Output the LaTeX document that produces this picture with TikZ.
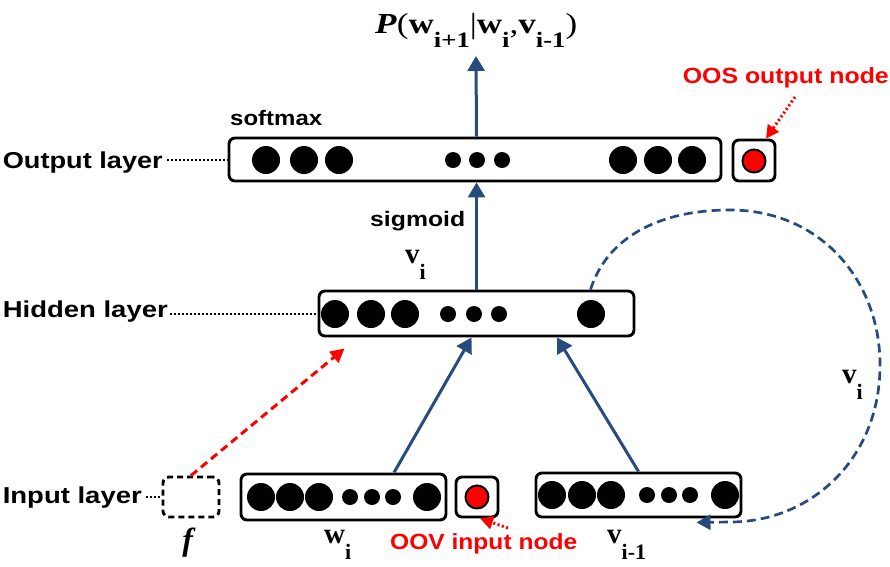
\documentclass[tikz,border=0pt]{standalone}
\usepackage{fontspec}
\setmainfont{Liberation Serif}
\setsansfont{Liberation Sans}
\usepackage{graphicx}
\usetikzlibrary{arrows.meta,calc}
\definecolor{navy}{HTML}{284B7E}
\definecolor{redc}{HTML}{FF0000}
\newcommand\lsub[2][16pt]{\raisebox{-#1}{\fontsize{22}{22}\selectfont\bfseries #2}}
\newcommand\fitw[2]{\resizebox{#1}{\height}{#2}}
\tikzset{
  layerbox/.style={draw=black, line width=2.9pt, rounded corners=6pt, inner sep=0pt, fill=white},
  bigdot/.style={circle, fill=black, inner sep=0pt, minimum size=28pt},
  smalldot/.style={circle, fill=black, inner sep=0pt, minimum size=16pt},
  reddisc/.style={circle, fill=redc, draw=black, line width=2pt, inner sep=0pt, minimum size=23pt},
  lbl/.style={font=\sffamily\bfseries\fontsize{23}{23}\selectfont, inner sep=0pt},
  smlbl/.style={font=\sffamily\bfseries\fontsize{21}{21}\selectfont, inner sep=0pt},
  redlbl/.style={font=\sffamily\bfseries\fontsize{22}{22}\selectfont, text=redc, inner sep=0pt},
  mathlbl/.style={font=\fontsize{29}{29}\selectfont, inner sep=0pt},
  leader/.style={black, line width=2pt, dash pattern=on 1.5pt off 2.5pt},
  flow/.style={navy, line width=3pt, -{Triangle[width=17pt,length=15pt]}},
  reddash/.style={redc, line width=3pt, dash pattern=on 8pt off 5pt, -{Triangle[width=14pt,length=14pt]}},
  reddotted/.style={redc, line width=3pt, dash pattern=on 2pt off 2.5pt, -{Triangle[width=13pt,length=13pt]}},
  loopline/.style={navy, line width=2.7pt, dash pattern=on 9pt off 5pt, -{Triangle[width=15pt,length=14pt]}},
}
\begin{document}
\begin{tikzpicture}[x=1pt,y=-1pt]
\useasboundingbox (0,0) rectangle (890,566);

% ---------- boxes ----------
\node[layerbox, minimum width=492pt, minimum height=43pt] (out) at (475,159.5) {};
\node[layerbox, minimum width=42pt, minimum height=41pt] (oos) at (754,160.5) {};
\node[layerbox, minimum width=315pt, minimum height=45pt] (hid) at (476.5,313.5) {};
\node[draw=black, line width=2.9pt, dash pattern=on 6pt off 4pt, rounded corners=6pt, minimum width=56pt, minimum height=40pt, inner sep=0pt] (fbox) at (191,497) {};
\node[layerbox, minimum width=205pt, minimum height=46pt] (wbox) at (343.5,497) {};
\node[layerbox, minimum width=42pt, minimum height=40pt] (oov) at (477,497) {};
\node[layerbox, minimum width=205pt, minimum height=44pt] (vbox) at (638.5,495) {};

% ---------- dots ----------
\foreach \x in {266,304,339,623,658,692} \node[bigdot] at (\x,160) {};
\foreach \x in {453,477,502} \node[smalldot] at (\x,160) {};
\node[reddisc] (oosdot) at (754,161) {};

\foreach \x in {335,371,405,591} \node[bigdot] at (\x,314) {};
\foreach \x in {448,474,499} \node[smalldot] at (\x,314) {};

\foreach \x in {261,290,319,427} \node[bigdot] at (\x,497) {};
\foreach \x in {350,372,393} \node[smalldot] at (\x,497) {};
\node[reddisc] (oovdot) at (477,497) {};

\foreach \x in {552,582,611,725} \node[bigdot] at (\x,495) {};
\foreach \x in {647,669,690} \node[smalldot] at (\x,495) {};

% ---------- text labels ----------
\node[lbl, anchor=base east] (outlbl) at (163,168) {\fitw{160pt}{Output layer}};
\node[lbl, anchor=base east] (hidlbl) at (168,317) {\fitw{165pt}{Hidden layer}};
\node[lbl, anchor=base east] (inlbl) at (142,503) {\fitw{139pt}{Input layer}};
\node[smlbl, anchor=base west] (softlbl) at (230,125) {\fitw{92pt}{softmax}};
\node[smlbl, anchor=base west] (siglbl) at (370,226) {\fitw{95pt}{sigmoid}};
\node[redlbl, anchor=base east] (ooslbl) at (889,83) {\fitw{206pt}{OOS output node}};
\node[redlbl, anchor=base west] (oovlbl) at (390,549) {\fitw{187pt}{OOV input node}};

\node[mathlbl, anchor=base west] (plbl) at (375,33)
  {\fitw{202pt}{\textbf{\textit{P}}(\textbf{w}\lsub[14pt]{i+1}|\textbf{w}\lsub[14pt]{i},\textbf{v}\lsub[14pt]{i-1})}};
\node[mathlbl, anchor=base west] (vilbl) at (405,263) {\textbf{v}\lsub{i}};
\node[mathlbl, anchor=base west] (virlbl) at (842,383) {\textbf{v}\lsub{i}};
\node[mathlbl, anchor=base west] (wlbl) at (324,543) {\textbf{w}\lsub{i}};
\node[mathlbl, anchor=base west] (vlbl) at (607,543) {\textbf{v}\lsub{i-1}};
\node[mathlbl, anchor=base] (flbl) at (189,550) {\fontsize{32}{32}\selectfont\textbf{\textit{f}}};

% ---------- leaders ----------
\draw[leader] (outlbl.east |- out.west) ++(4,0) -- (out.west);
\draw[leader] (hidlbl.east |- hid.west) ++(2,0) -- (hid.west);
\draw[leader] (inlbl.east |- fbox.west) ++(4,0) -- (fbox.west);

% ---------- connectors ----------
\coordinate (ptip) at (476,56);
\draw[flow] (hid.north |- out.north) -- (ptip);
\draw[flow] (hid.north) -- (hid.north |- out.south);
\draw[flow] ([xshift=50.5pt]wbox.north) -- ([xshift=-5pt]hid.south);
\draw[flow] (vbox.north) -- ([xshift=80.5pt]hid.south);

\draw[reddash] (fbox.north) -- ([xshift=27pt,yshift=-11pt]hid.south west);

\coordinate (oosfrom) at (795,97);
\draw[reddotted] (oosfrom) -- ([xshift=12pt]oos.north);
\coordinate (oovfrom) at (508,528);
\draw[reddotted] (oovfrom) -- ([xshift=3pt]oov.south);

\draw[loopline] ([xshift=114pt]hid.north)
  .. controls (607,238) and (658,210) .. (730,210)
  .. controls (820,210) and (880,280) .. (880,365)
  .. controls (880,460) and (810,522) .. (730,522)
  -- ([xshift=-46pt,yshift=-4pt]vbox.south east);
\end{tikzpicture}
\end{document}
